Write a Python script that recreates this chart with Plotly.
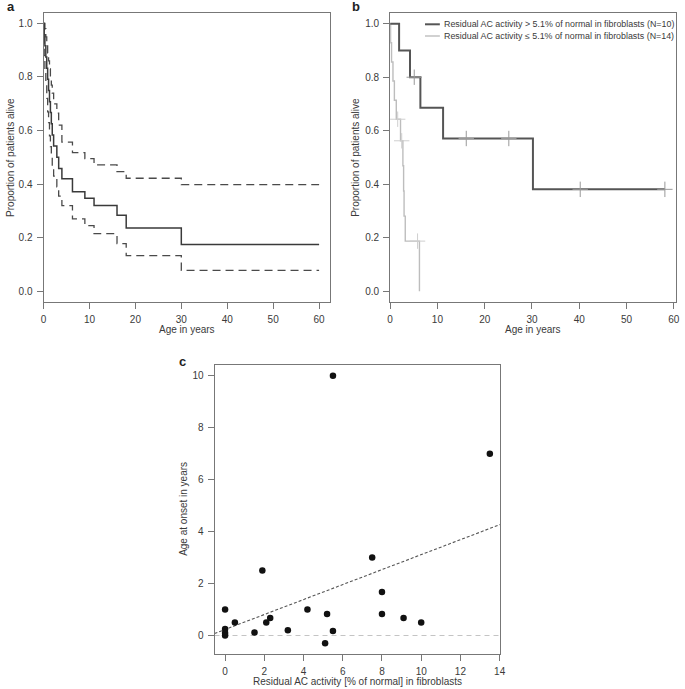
import plotly.graph_objects as go

W, H = 685, 689

# ---------------- Panel a: overall survival with 95% CI ----------------
a_times = [0, 0.15, 0.3, 0.5, 0.7, 0.9, 1.1, 1.3, 1.5, 1.7, 1.9, 2.2, 2.9, 3.3, 4.0,
           6.3, 9.0, 11.0, 16.0, 18.0, 30.0, 60.0]
a_surv = [1.0, 0.958, 0.917, 0.875, 0.833, 0.792, 0.75, 0.708, 0.667, 0.625, 0.583,
          0.542, 0.50, 0.458, 0.42, 0.372, 0.347, 0.32, 0.284, 0.236, 0.175, 0.175]
a_upper = [1.0, 1.0, 0.98, 0.95, 0.92, 0.89, 0.86, 0.83, 0.80, 0.77, 0.74, 0.70,
           0.665, 0.62, 0.557, 0.518, 0.495, 0.472, 0.447, 0.422, 0.398, 0.398]
a_lower = [1.0, 0.88, 0.82, 0.77, 0.72, 0.67, 0.63, 0.58, 0.54, 0.50, 0.46, 0.43,
           0.39, 0.355, 0.32, 0.27, 0.245, 0.215, 0.178, 0.133, 0.078, 0.078]

# ---------------- Panel b: survival by residual AC activity ----------------
b_hi_times = [0, 1.9, 4.2, 6.4, 11.2, 30.2, 58.1]
b_hi_surv = [1.0, 0.9, 0.8, 0.686, 0.571, 0.381, 0.381]
b_hi_cens_t = [5.1, 16.1, 25.1, 40.2, 58.1]
b_hi_cens_s = [0.8, 0.571, 0.571, 0.381, 0.381]

b_lo_times = [0, 0.1, 0.3, 0.6, 0.9, 1.3, 2.2, 2.7, 2.85, 2.95, 3.2, 6.2]
b_lo_surv = [1.0, 0.929, 0.857, 0.786, 0.714, 0.643, 0.5625, 0.469, 0.375, 0.281, 0.1875, 0.0]
b_lo_cens_t = [1.6, 2.45, 5.8]
b_lo_cens_s = [0.643, 0.5625, 0.1875]

b_legend = ["Residual AC activity > 5.1% of normal in fibroblasts (N=10)",
            "Residual AC activity \u2264 5.1% of normal in fibroblasts (N=14)"]

# ---------------- Panel c: onset vs residual activity ----------------
c_activity = [5.5, 13.5, 7.5, 1.9, 8.0, 0.0, 4.2, 5.2, 8.0, 9.1, 2.3, 0.5, 2.1, 10.0,
              0.0, 1.5, 3.2, 5.5, 0.0, 0.0, 5.1]
c_onset = [10.0, 7.0, 3.0, 2.5, 1.67, 1.0, 1.0, 0.83, 0.83, 0.67, 0.67, 0.5, 0.5, 0.5,
           0.25, 0.12, 0.2, 0.17, 0.1, 0.0, -0.3]
c_fit_intercept = 0.232
c_fit_slope = 0.288

FONT = "Liberation Sans, Arial, Helvetica, sans-serif"
AXC = "#777777"
TXT = "#3a3a3a"


def P(x, y):
    return x / W, 1 - y / H


fig = go.Figure()

# Panel a
fig.add_trace(go.Scatter(x=a_times, y=a_upper, mode="lines", line_shape="hv",
                         line=dict(color="#4a4a4a", width=1.3, dash="8px,5px"),
                         xaxis="x", yaxis="y"))
fig.add_trace(go.Scatter(x=a_times, y=a_lower, mode="lines", line_shape="hv",
                         line=dict(color="#4a4a4a", width=1.3, dash="8px,5px"),
                         xaxis="x", yaxis="y"))
fig.add_trace(go.Scatter(x=a_times, y=a_surv, mode="lines", line_shape="hv",
                         line=dict(color="#3a3a3a", width=1.5),
                         xaxis="x", yaxis="y"))

# Panel b
fig.add_trace(go.Scatter(x=b_lo_times, y=b_lo_surv, mode="lines", line_shape="hv",
                         line=dict(color="#bdbdbd", width=1.4),
                         xaxis="x2", yaxis="y2"))
fig.add_trace(go.Scatter(x=b_lo_cens_t, y=b_lo_cens_s, mode="markers",
                         marker=dict(symbol="cross-thin", size=11,
                                     line=dict(color="#cfcfcf", width=1)),
                         xaxis="x2", yaxis="y2"))
fig.add_trace(go.Scatter(x=b_hi_times, y=b_hi_surv, mode="lines", line_shape="hv",
                         line=dict(color="#555555", width=2),
                         xaxis="x2", yaxis="y2"))
fig.add_trace(go.Scatter(x=b_hi_cens_t, y=b_hi_cens_s, mode="markers",
                         marker=dict(symbol="cross-thin", size=11,
                                     line=dict(color="#999999", width=1)),
                         xaxis="x2", yaxis="y2"))

# Panel c
c_xr = [-0.54, 14.04]
c_yr = [-0.712, 10.412]
fig.add_trace(go.Scatter(x=c_xr, y=[0, 0], mode="lines",
                         line=dict(color="#c4c4c4", width=1, dash="5px,4px"),
                         xaxis="x3", yaxis="y3"))
fig.add_trace(go.Scatter(x=c_xr, y=[c_fit_intercept + c_fit_slope * v for v in c_xr],
                         mode="lines",
                         line=dict(color="#555555", width=1.1, dash="3px,2px"),
                         xaxis="x3", yaxis="y3"))
fig.add_trace(go.Scatter(x=c_activity, y=c_onset, mode="markers",
                         marker=dict(color="#111111", size=6.5, line=dict(width=0)),
                         xaxis="x3", yaxis="y3"))

axis_common = dict(showline=True, mirror=True, linecolor=AXC, linewidth=1,
                   ticks="outside", ticklen=6, tickcolor=AXC, tickwidth=1,
                   showgrid=False, zeroline=False, ticklabelstandoff=2,
                   tickfont=dict(family=FONT, size=10, color=TXT))

fig.update_layout(
    width=W, height=H,
    margin=dict(l=0, r=0, t=0, b=0),
    paper_bgcolor="white", plot_bgcolor="white",
    showlegend=False,
    font=dict(family=FONT, size=10, color=TXT),
    xaxis=dict(domain=[41 / W, 331 / W], range=[0, 62.4], anchor="y",
               tickvals=[0, 10, 20, 30, 40, 50, 60], **axis_common),
    yaxis=dict(domain=[1 - 302 / H, 1 - 12.7 / H], range=[-0.04, 1.04], anchor="x",
               tickvals=[0, 0.2, 0.4, 0.6, 0.8, 1.0], tickformat=".1f", **axis_common),
    xaxis2=dict(domain=[391.7 / W, 680.7 / W], range=[0, 60.4], anchor="y2",
                tickvals=[0, 10, 20, 30, 40, 50, 60], **axis_common),
    yaxis2=dict(domain=[1 - 302 / H, 1 - 13 / H], range=[-0.04, 1.04], anchor="x2",
                tickvals=[0, 0.2, 0.4, 0.6, 0.8, 1.0], tickformat=".1f", **axis_common),
    xaxis3=dict(domain=[214 / W, 503.3 / W], range=c_xr, anchor="y3",
                tickvals=[0, 2, 4, 6, 8, 10, 12, 14], **axis_common),
    yaxis3=dict(domain=[1 - 654 / H, 1 - 365 / H], range=c_yr, anchor="x3",
                tickvals=[0, 2, 4, 6, 8, 10], **axis_common),
)

ann = []


def add_text(text, x, y, size=10, angle=0, bold=False, xanchor="center", yanchor="middle"):
    px, py = P(x, y)
    ann.append(dict(text=("<b>%s</b>" % text) if bold else text, x=px, y=py,
                    xref="paper", yref="paper", showarrow=False, textangle=angle,
                    xanchor=xanchor, yanchor=yanchor,
                    font=dict(family=FONT, size=size, color="#222222" if bold else TXT)))


add_text("a", 2, 7, size=13, bold=True, xanchor="left")
add_text("b", 351, 7, size=13, bold=True, xanchor="left")
add_text("c", 176, 361, size=13, bold=True, xanchor="left")

add_text("Age in years", 186, 329)
add_text("Age in years", 536, 329)
add_text("Residual AC activity [% of normal] in fibroblasts", 358.5, 681)
add_text("Proportion of patients alive", 7, 157, angle=-90)
add_text("Proportion of patients alive", 356, 157, angle=-90)
add_text("Age at onset in years", 182, 509, angle=-90)

# Panel b legend
leg_rows = [24.3, 36.0]
leg_colors = ["#555555", "#bdbdbd"]
leg_widths = [2, 1.4]
shapes = []
for label, yy, col, lw in zip(b_legend, leg_rows, leg_colors, leg_widths):
    x0, y0 = P(427, yy)
    x1, _ = P(442, yy)
    shapes.append(dict(type="line", xref="paper", yref="paper", x0=x0, x1=x1, y0=y0, y1=y0,
                       line=dict(color=col, width=lw)))
    add_text(label, 444, yy, size=8.9, xanchor="left")

fig.update_layout(annotations=ann, shapes=shapes)

fig.write_html("out.html", config={"displayModeBar": False},
               post_script="document.body.style.margin='0';document.body.style.overflow='hidden';")
